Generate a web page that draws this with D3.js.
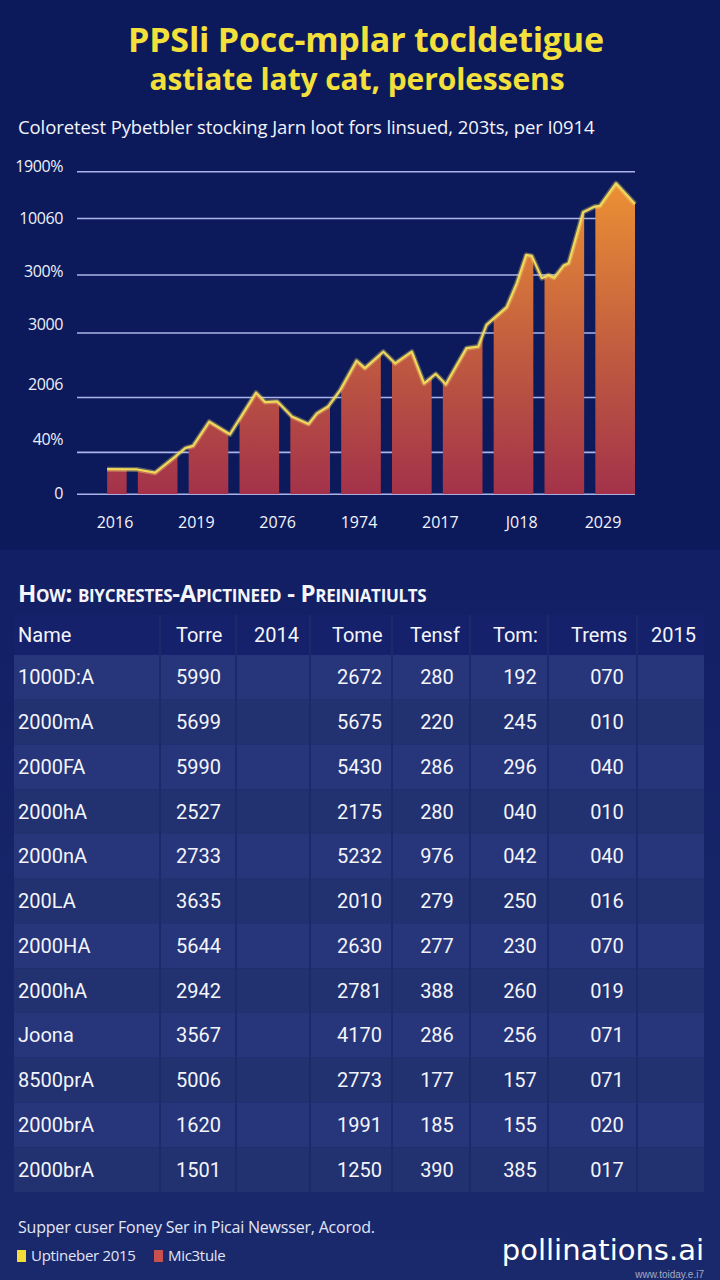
<!DOCTYPE html>
<html>
<head>
<meta charset="utf-8">
<script src="https://cdn.jsdelivr.net/npm/d3@7.9.0/dist/d3.min.js"></script>
<style>
  html, body { margin: 0; padding: 0; background: #0d1b5d; }
  svg { display: block; }
</style>
</head>
<body>
<svg id="chart" width="720" height="1280"></svg>
<script>
// Chart data
const yGridValues = [0, 130, 300, 500, 680, 855, 1000];
const yLabelValues = [4, 169, 342, 528, 690, 856, 1015];
const yTickLabels = ["0", "40%", "2006", "3000", "300%", "10060", "1900%"];
const xTickLabels = ["2016", "2019", "2076", "1974", "2017", "J018", "2029"];
const barSlots = [1, 2, 3, 4, 5, 6, 7, 8, 9, 10, 11];

// line points: position along the axis (0-100) and value
const lineX = [5.4, 10.8, 14.0, 17.6, 19.4, 20.8, 23.7, 27.4, 32.1, 33.7, 35.9, 38.5, 41.5, 43.0, 45.0,
  47.1, 50.1, 51.6, 54.9, 57.0, 60.0, 62.2, 64.3, 66.1, 69.8, 71.9, 73.4, 77.0, 78.8, 80.5,
  81.5, 83.3, 84.5, 85.5, 87.2, 88.1, 90.7, 92.8, 93.7, 96.6, 100];
const lineY = [78, 77, 67, 117, 143, 150, 225, 186, 315, 286, 288, 241, 218, 251, 272,
  321, 414, 391, 442, 406, 442, 344, 373, 341, 453, 458, 525, 580, 654, 742,
  739, 670, 680, 671, 709, 716, 874, 892, 894, 964, 900];

// Table data
const tableHeaders = ["Name", "Torre", "2014", "Tome", "Tensf", "Tom:", "Trems", "2015"];
const rowNames = ["1000D:A", "2000mA", "2000FA", "2000hA", "2000nA", "200LA", "2000HA", "2000hA", "Joona", "8500prA", "2000brA", "2000brA"];
const colTorre = ["5990", "5699", "5990", "2527", "2733", "3635", "5644", "2942", "3567", "5006", "1620", "1501"];
const colTome = ["2672", "5675", "5430", "2175", "5232", "2010", "2630", "2781", "4170", "2773", "1991", "1250"];
const colTensf = ["280", "220", "286", "280", "976", "279", "277", "388", "286", "177", "185", "390"];
const colTomb = ["192", "245", "296", "040", "042", "250", "230", "260", "256", "157", "155", "385"];
const colTrems = ["070", "010", "040", "010", "040", "016", "070", "019", "071", "071", "020", "017"];

const legendLabels = ["Uptineber 2015", "Mic3tule"];
const legendColors = ["#f2dc3a", "#c8504e"];

const svg = d3.select("#chart");
const defs = svg.append("defs");

// Background: darker top, slightly lighter lower section
let bgGrad = defs.append("linearGradient").attr("id", "bgLow")
  .attr("x1", 0).attr("y1", 0).attr("x2", 0).attr("y2", 1);
bgGrad.append("stop").attr("offset", "0%").attr("stop-color", "#121f64");
bgGrad.append("stop").attr("offset", "100%").attr("stop-color", "#1a296c");

svg.append("rect").attr("width", 720).attr("height", 1280).attr("fill", "#0c1a5c");
svg.append("rect").attr("y", 550).attr("width", 720).attr("height", 730).attr("fill", "url(#bgLow)");

// Titles
svg.append("text")
  .attr("x", 366).attr("y", 52)
  .attr("text-anchor", "middle")
  .attr("font-family", "'Open Sans', sans-serif")
  .attr("font-weight", 700)
  .attr("font-size", 34)
  .attr("letter-spacing", -0.2)
  .attr("fill", "#f3e03a")
  .text("PPSli Pocc-mplar tocldetigue");

svg.append("text")
  .attr("x", 357).attr("y", 90)
  .attr("text-anchor", "middle")
  .attr("font-family", "'Open Sans', sans-serif")
  .attr("font-weight", 700)
  .attr("font-size", 30)
  .attr("letter-spacing", -0.1)
  .attr("fill", "#f3e03a")
  .text("astiate laty cat, perolessens");

svg.append("text")
  .attr("x", 18).attr("y", 134)
  .attr("font-family", "'Open Sans', sans-serif")
  .attr("font-size", 18.5)
  .attr("letter-spacing", -0.1)
  .attr("fill", "#f2f4fb")
  .text("Coloretest Pybetbler stocking Jarn loot fors linsued, 203ts, per I0914");

// Scales
const xLin = d3.scaleLinear().domain([0, 100]).range([77, 635]);
const xBand = d3.scaleBand().domain(barSlots).range([87, 635]).paddingInner(0.22).paddingOuter(0);
const y = d3.scaleLinear().domain([0, 1000]).range([494.3, 171.7]);
const xLabel = d3.scalePoint().domain(xTickLabels).range([115, 603]);

// Gridlines
svg.append("g")
  .selectAll("line")
  .data(yGridValues)
  .join("line")
  .attr("x1", 77).attr("x2", 635)
  .attr("y1", d => y(d)).attr("y2", d => y(d))
  .attr("stroke", "#aab4e8")
  .attr("stroke-width", 1.6);

// Y labels
svg.append("g")
  .selectAll("text")
  .data(yLabelValues)
  .join("text")
  .attr("x", 63)
  .attr("y", d => y(d))
  .attr("dy", "0.35em")
  .attr("text-anchor", "end")
  .attr("font-family", "'Open Sans', sans-serif")
  .attr("font-size", 16)
  .attr("letter-spacing", -0.4)
  .attr("fill", "#eef0fa")
  .text((d, i) => yTickLabels[i]);

// X labels
svg.append("g")
  .selectAll("text")
  .data(xTickLabels)
  .join("text")
  .attr("x", d => xLabel(d))
  .attr("y", 522)
  .attr("dy", "0.35em")
  .attr("text-anchor", "middle")
  .attr("font-family", "'Open Sans', sans-serif")
  .attr("font-size", 16)
  .attr("fill", "#f2f4fb")
  .text(d => d);

// Bar gradient (orange at top, crimson at base)
let barGrad = defs.append("linearGradient").attr("id", "barGrad")
  .attr("gradientUnits", "userSpaceOnUse")
  .attr("x1", 0).attr("y1", y(960)).attr("x2", 0).attr("y2", y(0));
barGrad.append("stop").attr("offset", "0%").attr("stop-color", "#eb9034");
barGrad.append("stop").attr("offset", "55%").attr("stop-color", "#c05b40");
barGrad.append("stop").attr("offset", "100%").attr("stop-color", "#a3324a");

// Clip the area under the line into bars
defs.append("clipPath").attr("id", "barClip")
  .selectAll("rect")
  .data(barSlots)
  .join("rect")
  .attr("x", d => xBand(d))
  .attr("width", xBand.bandwidth())
  .attr("y", 0)
  .attr("height", y(0));

const pts = lineX.map((t, i) => [t, lineY[i]]);

let area = d3.area()
  .x(d => xLin(d[0]))
  .y0(y(0))
  .y1(d => y(d[1]));

svg.append("path")
  .datum(pts)
  .attr("d", area)
  .attr("fill", "url(#barGrad)")
  .attr("clip-path", "url(#barClip)");

// Line with soft glow
let line = d3.line()
  .x(d => xLin(d[0]))
  .y(d => y(d[1]));

svg.append("path")
  .datum(pts)
  .attr("d", line)
  .attr("fill", "none")
  .attr("stroke", "#f5e070")
  .attr("stroke-opacity", 0.35)
  .attr("stroke-width", 5)
  .attr("stroke-linejoin", "round");

svg.append("path")
  .datum(pts)
  .attr("d", line)
  .attr("fill", "none")
  .attr("stroke", "#f0d85a")
  .attr("stroke-width", 2.2)
  .attr("stroke-linejoin", "round");

// Table section
svg.append("text")
  .attr("x", 18).attr("y", 602)
  .attr("font-family", "'Open Sans', sans-serif")
  .attr("font-weight", 700)
  .attr("font-size", 24)
  .attr("font-variant", "small-caps")
  .attr("letter-spacing", -0.3)
  .attr("fill", "#f4f5fb")
  .text("How: biycrestes-Apictineed - Preiniatiults");

const tableLeft = 14, tableRight = 704;
const colEdges = [160, 236, 310, 392, 470, 548, 637];

// header row
svg.append("rect")
  .attr("x", tableLeft).attr("y", 615)
  .attr("width", tableRight - tableLeft).attr("height", 40)
  .attr("fill", "#15216a");

const rowY = d3.scaleBand().domain(d3.range(rowNames.length)).range([655, 1192]);

svg.append("g")
  .selectAll("rect")
  .data(rowNames)
  .join("rect")
  .attr("x", tableLeft)
  .attr("y", (d, i) => rowY(i))
  .attr("width", tableRight - tableLeft)
  .attr("height", rowY.bandwidth())
  .attr("fill", (d, i) => i % 2 === 0 ? "#27367a" : "#223170");

// column separators
svg.append("g")
  .selectAll("line")
  .data(colEdges)
  .join("line")
  .attr("x1", d => d).attr("x2", d => d)
  .attr("y1", 615).attr("y2", 1192)
  .attr("stroke", "#1c2a69")
  .attr("stroke-width", 2);

// column text positions
const colSpec = [
  { hx: 18, vx: 18, anchor: "start", values: rowNames },
  { hx: 176, vx: 176, anchor: "start", values: colTorre },
  { hx: 254, vx: 254, anchor: "start", values: null },
  { hx: 332, vx: 382, anchor: "end", values: colTome },
  { hx: 410, vx: 437, anchor: "middle", values: colTensf },
  { hx: 493, vx: 520, anchor: "middle", values: colTomb },
  { hx: 571, vx: 607, anchor: "middle", values: colTrems },
  { hx: 651, vx: 651, anchor: "start", values: null }
];

svg.append("g")
  .selectAll("text")
  .data(tableHeaders)
  .join("text")
  .attr("x", (d, i) => colSpec[i].hx)
  .attr("y", 635)
  .attr("dy", "0.35em")
  .attr("font-family", "Roboto, 'Open Sans', sans-serif")
  .attr("font-size", 20)
  .attr("fill", "#f4f5fb")
  .text(d => d);

colSpec.forEach(col => {
  if (!col.values) return;
  svg.append("g")
    .selectAll("text")
    .data(col.values)
    .join("text")
    .attr("x", col.vx)
    .attr("y", (d, i) => rowY(i) + rowY.bandwidth() / 2)
    .attr("dy", "0.35em")
    .attr("text-anchor", col.anchor)
    .attr("font-family", "Roboto, 'Open Sans', sans-serif")
    .attr("font-size", 20)
    .attr("fill", "#f4f5fb")
    .text(d => d);
});

// Footer + legend
svg.append("text")
  .attr("x", 18).attr("y", 1233)
  .attr("font-family", "'Open Sans', sans-serif")
  .attr("font-size", 16)
  .attr("letter-spacing", -0.2)
  .attr("fill", "#e2e5f5")
  .text("Supper cuser Foney Ser in Picai Newsser, Acorod.");

const legendX = [17, 154];
legendLabels.forEach((lab, i) => {
  svg.append("rect")
    .attr("x", legendX[i]).attr("y", 1250)
    .attr("width", 9).attr("height", 12)
    .attr("fill", legendColors[i]);
  svg.append("text")
    .attr("x", legendX[i] + 14).attr("y", 1256)
    .attr("dy", "0.35em")
    .attr("font-family", "'Open Sans', sans-serif")
    .attr("font-size", 15)
    .attr("letter-spacing", -0.3)
    .attr("fill", "#e2e5f5")
    .text(lab);
});

// watermark
svg.append("text")
  .attr("x", 704).attr("y", 1260)
  .attr("text-anchor", "end")
  .attr("font-family", "'DejaVu Sans', sans-serif")
  .attr("font-size", 29)
  .attr("fill", "#ffffff")
  .text("pollinations.ai");

svg.append("text")
  .attr("x", 704).attr("y", 1278)
  .attr("text-anchor", "end")
  .attr("font-family", "'Liberation Sans', sans-serif")
  .attr("font-size", 10)
  .attr("fill", "#ffffff")
  .attr("fill-opacity", 0.6)
  .text("www.toiday.e.i7");
</script>
</body>
</html>
